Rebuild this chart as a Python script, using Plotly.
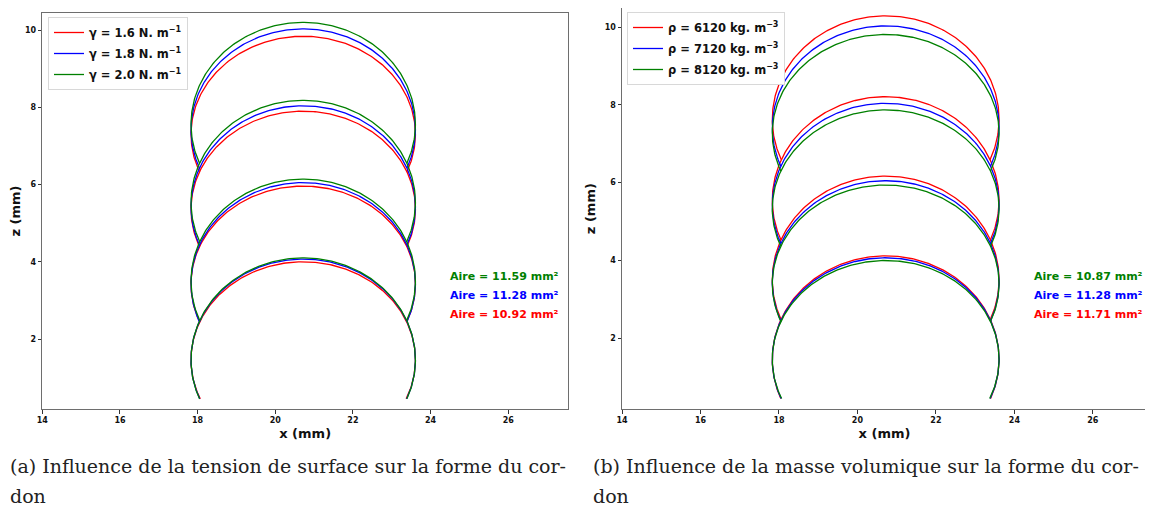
"""Profils de cordons empilés : influence de gamma et de rho"""
import numpy as np
import plotly.graph_objects as go

# the page body keeps its 8 px margin: the figure starts 8 px into the window
PAGE_MARGIN = 8
W, H = 1153 - PAGE_MARGIN, 509 - PAGE_MARGIN

# geometry of the beads (mm)
x_center = 20.72
half_width = 2.89
substrate_z = 0.45

# (a) surface tension
gamma_names = ["γ = 1.6 N. m<sup>−1</sup>", "γ = 1.8 N. m<sup>−1</sup>", "γ = 2.0 N. m<sup>−1</sup>"]
gamma_apex = [
    [4.00, 5.96, 7.90, 9.84],
    [4.07, 6.05, 8.04, 10.03],
    [4.10, 6.14, 8.18, 10.20],
]
gamma_cap = [2.54, 2.61, 2.64]   # apex height above the widest level
gamma_area = [10.92, 11.28, 11.59]

# (b) density
rho_names = ["ρ = 6120 kg. m<sup>−3</sup>", "ρ = 7120 kg. m<sup>−3</sup>", "ρ = 8120 kg. m<sup>−3</sup>"]
rho_apex = [
    [4.12, 6.17, 8.21, 10.29],
    [4.07, 6.05, 8.04, 10.03],
    [4.00, 5.94, 7.87, 9.81],
]
rho_cap = [2.66, 2.61, 2.54]
rho_area = [11.71, 11.28, 10.87]

colors = ["#ff0000", "#0000ff", "#008000"]


def bead_stack(apexes, cap):
    """stacked elliptic arcs, each one cut where it meets the bead below"""
    xs, zs = [], []
    centres = [a - cap for a in apexes]
    for k, zc in enumerate(centres):
        z_low = substrate_z if k == 0 else 0.5 * (centres[k - 1] + zc)
        t0 = np.arcsin((z_low - zc) / cap)
        t = np.linspace(t0, np.pi - t0, 240)
        xs += list(x_center + half_width * np.cos(t)) + [None]
        zs += list(zc + cap * np.sin(t)) + [None]
    return xs, zs


fig = go.Figure()

panels = [
    (gamma_names, gamma_apex, gamma_cap, "x", "y", "legend"),
    (rho_names, rho_apex, rho_cap, "x2", "y2", "legend2"),
]
for names, apexes, caps, xa, ya, leg in panels:
    for name, ap, cap, col in zip(names, apexes, caps, colors):
        xs, zs = bead_stack(ap, cap)
        fig.add_trace(go.Scatter(x=xs, y=zs, mode="lines", name=name,
                                 line=dict(color=col, width=1.3), legendgroup=name,
                                 xaxis=xa, yaxis=ya, legend=leg))


# window pixel -> paper fraction
def px(v):
    return min(max((v - PAGE_MARGIN) / W, 0), 1)


def py(v):
    return min(max(1 - (v - PAGE_MARGIN) / H, 0), 1)


tick_font = dict(family="DejaVu Sans", size=8, color="#111", weight="bold")
title_font = dict(family="DejaVu Sans", size=13, color="#111", weight="bold")
axis_common = dict(showline=True, mirror=True, linecolor="#6e6e6e", linewidth=1,
                   ticks="outside", ticklen=3.5, tickwidth=0.8, tickcolor="#333",
                   showgrid=False, zeroline=False, tickfont=tick_font, automargin=False)
legend_font = dict(family="DejaVu Sans", size=11.5, color="#111", weight="bold")

fig.update_layout(
    width=W, height=H,
    margin=dict(l=0, r=0, t=0, b=0, autoexpand=False),
    paper_bgcolor="white", plot_bgcolor="white",
    xaxis=dict(domain=[px(42.3), px(568)], range=[14, 27.54], tickvals=[14, 16, 18, 20, 22, 24, 26],
               title=dict(text="x (mm)", font=title_font, standoff=4), anchor="y", **axis_common),
    yaxis=dict(domain=[py(409.3), py(12.7)], range=[0.18, 10.45], tickvals=[2, 4, 6, 8, 10],
               title=dict(text="z (mm)", font=title_font, standoff=6), anchor="x", **axis_common),
    xaxis2=dict(domain=[px(622), px(1147)], range=[14, 27.38], tickvals=[14, 16, 18, 20, 22, 24, 26],
                title=dict(text="x (mm)", font=title_font, standoff=4), anchor="y2", **axis_common),
    yaxis2=dict(domain=[py(409.3), py(8)], range=[0.175, 10.49], tickvals=[2, 4, 6, 8, 10],
                title=dict(text="z (mm)", font=title_font, standoff=6), anchor="x2", **axis_common),
    legend=dict(x=px(48), y=py(17), xanchor="left", yanchor="top", bgcolor="white",
                bordercolor="#d8d8d8", borderwidth=1, itemwidth=30, font=legend_font,
                tracegroupgap=2),
    legend2=dict(x=px(627), y=py(12), xanchor="left", yanchor="top", bgcolor="white",
                 bordercolor="#d8d8d8", borderwidth=1, itemwidth=30, font=legend_font,
                 tracegroupgap=2),
    showlegend=True,
)

# area labels, listed green / blue / red from top to bottom
area_rows = [276, 295, 314]
for areas, x_right in [(gamma_area, 561), (rho_area, 1145)]:
    for row, i in zip(area_rows, [2, 1, 0]):
        fig.add_annotation(x=px(x_right), y=py(row), xref="paper", yref="paper",
                           xanchor="right", yanchor="middle", showarrow=False,
                           text=f"Aire = {areas[i]:.2f} mm²",
                           font=dict(family="DejaVu Sans", size=11, color=colors[i], weight="bold"))

# captions under the panels
captions = [
    (8, "(a) Influence de la tension de surface sur la forme du cor-", "don"),
    (591, "(b) Influence de la masse volumique sur la forme du cor-", "don"),
]
for x0, l1, l2 in captions:
    for row, txt in [(466, l1), (496, l2)]:
        fig.add_annotation(x=px(x0), y=py(row), xref="paper", yref="paper",
                           xanchor="left", yanchor="middle", showarrow=False, text=txt,
                           font=dict(family="DejaVu Serif", size=19, color="#222"))

fig.write_html("out.html")
